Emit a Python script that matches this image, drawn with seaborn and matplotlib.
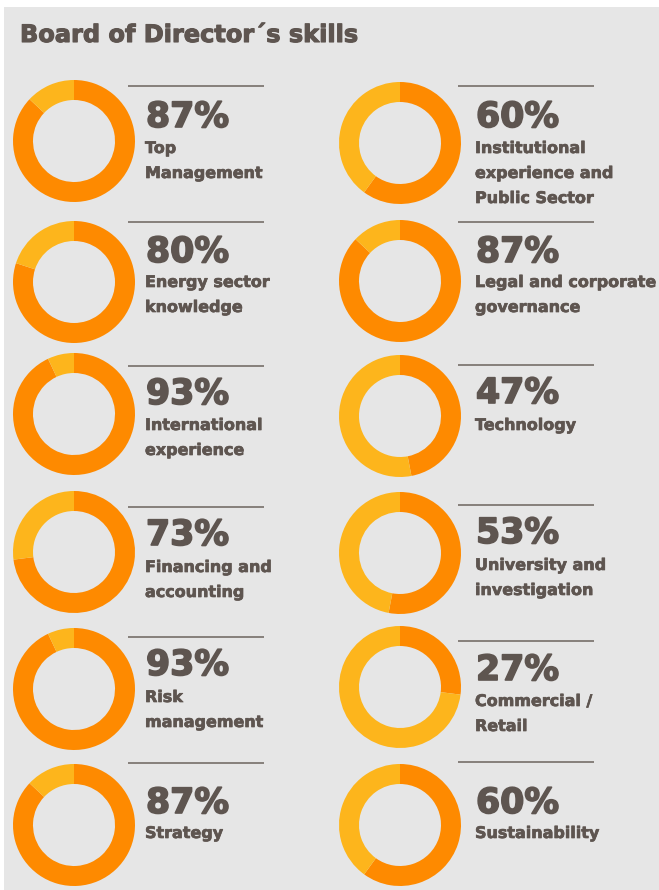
import matplotlib
matplotlib.use("Agg")
import matplotlib.pyplot as plt
import matplotlib.patheffects as pe
import seaborn as sns

# ---------------- data ----------------
title = "Board of Director\u00b4s skills"
left_skills = ["Top\nManagement", "Energy sector\nknowledge", "International\nexperience",
               "Financing and\naccounting", "Risk\nmanagement", "Strategy"]
left_values = [87, 80, 93, 73, 93, 87]
right_skills = ["Institutional\nexperience and\nPublic Sector", "Legal and corporate\ngovernance",
                "Technology", "University and\ninvestigation", "Commercial /\nRetail", "Sustainability"]
right_values = [60, 87, 47, 53, 27, 60]

# ---------------- layout (pixels, from top) ----------------
W, H = 659, 890
col_cx = [74, 400]
col_line_x = [(128, 264), (458, 594)]
col_text_x = [146, 476]
centers_y = [[141, 282, 414, 552, 689, 825], [143, 281, 416, 553, 687, 825]]
lines_y = [[86, 222, 366, 507, 637, 763], [86, 222, 365, 505, 641, 762]]
pct_base = [[127, 262, 404, 545, 675, 813], [127, 262, 403, 543, 680, 813]]
lab_base = [[153, 287, 430, 572, 702, 838], [153, 287, 430, 570, 706, 838]]
R_OUT, RING = 61, 20
LAB_STEP = 25

ORANGE = "#fe8a00"
YELLOW = "#fdb51c"
TEXT = "#5e5550"
LINE = "#86807b"
BG = "#e6e6e6"

sns.set_theme(style="white")
plt.rcParams["font.family"] = ["DejaVu Sans"]

fig = plt.figure(figsize=(W / 100, H / 100), dpi=100, facecolor="white")
ax = fig.add_axes([0, 0, 1, 1])
ax.set_facecolor("white")

def fy(py):
    return H - py

def heavy(w):
    return [pe.withStroke(linewidth=w, foreground=TEXT)]

# gray panel
ax.add_patch(plt.Rectangle((4, 0), W - 4, H - 7, facecolor=BG, edgecolor="none", zorder=0))

ax.text(20, fy(42), title, fontsize=17.3, fontweight="bold", color=TEXT, va="baseline", ha="left",
        path_effects=heavy(0.8))

for c, (skills, values) in enumerate([(left_skills, left_values), (right_skills, right_values)]):
    for r, (lab, v) in enumerate(zip(skills, values)):
        ax.pie([v, 100 - v], colors=[ORANGE, YELLOW], startangle=90, counterclock=False,
               radius=R_OUT, center=(col_cx[c], fy(centers_y[c][r])),
               wedgeprops=dict(width=RING, edgecolor="none", linewidth=0), frame=True)
        x0, x1 = col_line_x[c]
        ax.plot([x0, x1], [fy(lines_y[c][r])] * 2, color=LINE, lw=1.4, solid_capstyle="butt")
        ax.text(col_text_x[c], fy(pct_base[c][r]), f"{v}%", fontsize=25, fontweight="bold",
                color=TEXT, va="baseline", ha="left", path_effects=heavy(1.2))
        for k, line in enumerate(lab.split("\n")):
            ax.text(col_text_x[c] - 1, fy(lab_base[c][r] + k * LAB_STEP), line, fontsize=11.5,
                    fontweight="bold", color=TEXT, va="baseline", ha="left",
                    path_effects=heavy(0.5))

ax.set_xlim(0, W)
ax.set_ylim(0, H)
ax.set_aspect("auto")
ax.axis("off")
fig.savefig("out.png", dpi=100, facecolor="white")
